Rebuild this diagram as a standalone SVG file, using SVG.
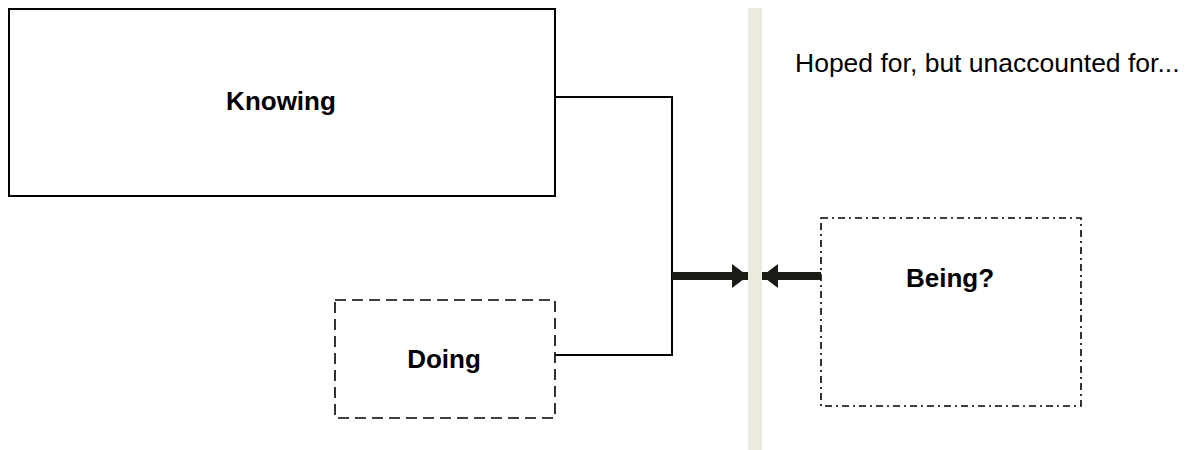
<svg xmlns="http://www.w3.org/2000/svg" width="1192" height="450" viewBox="0 0 1192 450">
<style>
.box{fill:#fff;stroke:#000;stroke-width:2}
.dash{stroke-width:1.6}
.lbl{font-family:"Liberation Sans",Arial,sans-serif;font-weight:bold;font-size:26px;fill:#000;text-anchor:middle}
.note{font-family:"Liberation Sans",Arial,sans-serif;font-size:26.5px;fill:#000}
.conn{fill:none;stroke:#000;stroke-width:2}
.arr{fill:none;stroke:#1c1c16;stroke-width:8}
</style>
<defs>
<marker id="ah" viewBox="0 0 16 24" refX="16" refY="12" markerWidth="16" markerHeight="24" markerUnits="userSpaceOnUse" orient="auto">
<path d="M0,0 L16,12 L0,24 Z" fill="#1c1c16"/>
</marker>
</defs>
<rect id="separator" x="748" y="8" width="14" height="442" fill="#ECE9DF"/>
<g id="knowing">
<rect class="box" x="9" y="9" width="546" height="187"/>
<text class="lbl" x="281" y="110">Knowing</text>
</g>
<g id="doing">
<rect class="box dash" x="335" y="300" width="220" height="118" stroke-dasharray="11,6"/>
<text class="lbl" x="444" y="368">Doing</text>
</g>
<g id="being">
<rect class="box dash" x="821" y="218" width="260" height="188" stroke-dasharray="7,4,2,4"/>
<text class="lbl" x="950" y="287">Being?</text>
</g>
<text id="note" class="note" x="795" y="72">Hoped for, but unaccounted for...</text>
<g id="connectors">
<polyline class="conn" points="555,97 672,97 672,355 555,355"/>
<line class="arr" x1="672" y1="276" x2="748" y2="276" marker-end="url(#ah)"/>
<line class="arr" x1="821" y1="276" x2="762" y2="276" marker-end="url(#ah)"/>
</g>
</svg>
